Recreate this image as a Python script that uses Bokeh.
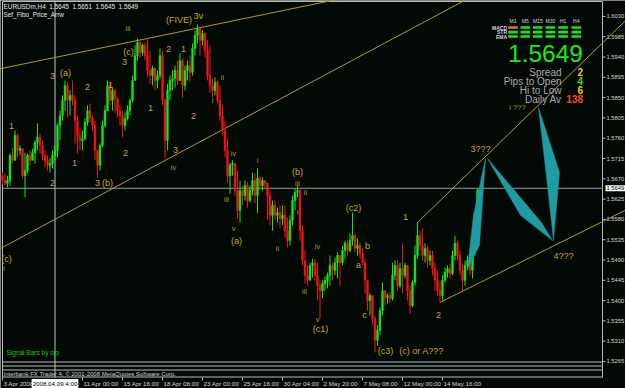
from bokeh.plotting import figure
from bokeh.models import Range1d
from bokeh.embed import file_html
from bokeh.resources import INLINE
from bokeh.core.properties import value

# ---------------- data ----------------
NB = "\u00a0"
header_line1 = "EURUSDm,H4" + NB * 2 + (NB * 2).join(["1.5645", "1.5651", "1.5645", "1.5649"])
header_line2 = "Sef_Fibo_Price_Arrw"
signal_text = "Signal Bars by ojo"
copyright_text = "Interbank FX Trader 4, \u00a9 2001-2008 MetaQuotes Software Corp."

first_open = 1.5677
closes = [
    1.5666, 1.5660, 1.5666, 1.5722, 1.5711, 1.5766, 1.5733, 1.5737, 1.5677, 1.5688,
    1.5722, 1.5711, 1.5728, 1.5751, 1.5762, 1.5744, 1.5722, 1.5711, 1.5700, 1.5704,
    1.5722, 1.5733, 1.5788, 1.5810, 1.5844, 1.5877, 1.5844, 1.5855, 1.5844, 1.5799,
    1.5766, 1.5755, 1.5759, 1.5795, 1.5821, 1.5804, 1.5788, 1.5733, 1.5700, 1.5744,
    1.5788, 1.5821, 1.5877, 1.5844, 1.5866, 1.5848, 1.5821, 1.5810, 1.5788, 1.5804,
    1.5821, 1.5844, 1.5888, 1.5943, 1.5972, 1.5950, 1.5966, 1.5943, 1.5910, 1.5899,
    1.5915, 1.5888, 1.5899, 1.5943, 1.5844, 1.5755, 1.5866, 1.5888, 1.5892, 1.5910,
    1.5888, 1.5932, 1.5877, 1.5910, 1.5921, 1.5906, 1.5959, 1.5988, 1.6003, 1.5977,
    1.5992, 1.5954, 1.5899, 1.5877, 1.5866, 1.5884, 1.5844, 1.5810, 1.5777, 1.5733,
    1.5677, 1.5700, 1.5704, 1.5644, 1.5600, 1.5644, 1.5633, 1.5655, 1.5622, 1.5644,
    1.5666, 1.5633, 1.5671, 1.5655, 1.5666, 1.5660, 1.5633, 1.5589, 1.5611, 1.5589,
    1.5595, 1.5582, 1.5589, 1.5555, 1.5533, 1.5578, 1.5622, 1.5640, 1.5644, 1.5555,
    1.5489, 1.5456, 1.5445, 1.5478, 1.5484, 1.5456, 1.5433, 1.5422, 1.5438, 1.5445,
    1.5456, 1.5478, 1.5467, 1.5484, 1.5500, 1.5484, 1.5511, 1.5527, 1.5511, 1.5533,
    1.5544, 1.5516, 1.5522, 1.5504, 1.5484, 1.5445, 1.5400, 1.5411, 1.5360, 1.5312,
    1.5334, 1.5378, 1.5422, 1.5407, 1.5411, 1.5405, 1.5456, 1.5478, 1.5433, 1.5471,
    1.5456, 1.5478, 1.5422, 1.5389, 1.5440, 1.5500, 1.5544, 1.5522, 1.5500, 1.5516,
    1.5489, 1.5500, 1.5471, 1.5445, 1.5422, 1.5411, 1.5445, 1.5462, 1.5471, 1.5460,
    1.5500, 1.5527, 1.5500, 1.5467, 1.5445, 1.5478, 1.5489, 1.5467, 1.5511, 1.5573,
    1.5645, 1.5649,
]
highs = [
    1.5684, 1.5682, 1.5677, 1.5726, 1.5739, 1.5777, 1.5770, 1.5744, 1.5737, 1.5728,
    1.5726, 1.5733, 1.5737, 1.5755, 1.5793, 1.5770, 1.5755, 1.5733, 1.5722, 1.5715,
    1.5733, 1.5744, 1.5793, 1.5821, 1.5855, 1.5888, 1.5885, 1.5866, 1.5888, 1.5855,
    1.5810, 1.5782, 1.5777, 1.5804, 1.5833, 1.5837, 1.5810, 1.5799, 1.5733, 1.5748,
    1.5799, 1.5833, 1.5888, 1.5884, 1.5872, 1.5870, 1.5850, 1.5833, 1.5821, 1.5817,
    1.5833, 1.5848, 1.5899, 1.5966, 1.5981, 1.5977, 1.5970, 1.5972, 1.5983, 1.5954,
    1.5921, 1.5917, 1.5910, 1.5959, 1.5954, 1.5848, 1.5881, 1.5899, 1.5910, 1.5921,
    1.5932, 1.5948, 1.5937, 1.5921, 1.5932, 1.5943, 1.5970, 1.5999, 1.6012, 1.6008,
    1.5999, 1.5994, 1.5977, 1.5966, 1.5892, 1.5895, 1.5888, 1.5877, 1.5833, 1.5799,
    1.5759, 1.5706, 1.5711, 1.5704, 1.5688, 1.5666, 1.5655, 1.5666, 1.5662, 1.5655,
    1.5684, 1.5682, 1.5693, 1.5677, 1.5673, 1.5666, 1.5662, 1.5644, 1.5622, 1.5622,
    1.5606, 1.5611, 1.5611, 1.5611, 1.5584, 1.5589, 1.5633, 1.5649, 1.5655, 1.5649,
    1.5567, 1.5511, 1.5478, 1.5484, 1.5493, 1.5493, 1.5484, 1.5445, 1.5445, 1.5453,
    1.5462, 1.5500, 1.5484, 1.5495, 1.5507, 1.5500, 1.5522, 1.5533, 1.5533, 1.5549,
    1.5595, 1.5549, 1.5538, 1.5529, 1.5516, 1.5493, 1.5445, 1.5416, 1.5411, 1.5367,
    1.5345, 1.5385, 1.5440, 1.5422, 1.5416, 1.5418, 1.5484, 1.5489, 1.5489, 1.5484,
    1.5527, 1.5484, 1.5478, 1.5433, 1.5445, 1.5522, 1.5573, 1.5555, 1.5560, 1.5527,
    1.5522, 1.5511, 1.5511, 1.5484, 1.5467, 1.5445, 1.5456, 1.5473, 1.5478, 1.5482,
    1.5511, 1.5544, 1.5533, 1.5511, 1.5482, 1.5489, 1.5500, 1.5500, 1.5522, 1.5578,
    1.5649, 1.5651,
]
lows = [
    1.5657, 1.5655, 1.5651, 1.5655, 1.5704, 1.5711, 1.5717, 1.5722, 1.5671, 1.5629,
    1.5682, 1.5700, 1.5711, 1.5704, 1.5733, 1.5726, 1.5711, 1.5695, 1.5688, 1.5684,
    1.5693, 1.5711, 1.5717, 1.5755, 1.5799, 1.5821, 1.5806, 1.5810, 1.5833, 1.5748,
    1.5726, 1.5733, 1.5733, 1.5755, 1.5788, 1.5795, 1.5777, 1.5711, 1.5673, 1.5688,
    1.5739, 1.5784, 1.5821, 1.5833, 1.5821, 1.5817, 1.5806, 1.5788, 1.5762, 1.5777,
    1.5799, 1.5810, 1.5839, 1.5888, 1.5932, 1.5939, 1.5943, 1.5932, 1.5895, 1.5881,
    1.5877, 1.5866, 1.5870, 1.5892, 1.5833, 1.5715, 1.5733, 1.5844, 1.5866, 1.5872,
    1.5877, 1.5888, 1.5850, 1.5866, 1.5888, 1.5884, 1.5899, 1.5943, 1.5970, 1.5943,
    1.5966, 1.5939, 1.5888, 1.5861, 1.5850, 1.5855, 1.5837, 1.5799, 1.5766, 1.5717,
    1.5662, 1.5637, 1.5677, 1.5633, 1.5582, 1.5573, 1.5611, 1.5622, 1.5606, 1.5617,
    1.5633, 1.5615, 1.5595, 1.5644, 1.5644, 1.5649, 1.5578, 1.5567, 1.5555, 1.5578,
    1.5573, 1.5562, 1.5567, 1.5540, 1.5518, 1.5522, 1.5567, 1.5600, 1.5629, 1.5533,
    1.5478, 1.5438, 1.5433, 1.5445, 1.5451, 1.5445, 1.5400, 1.5360, 1.5405, 1.5422,
    1.5427, 1.5433, 1.5445, 1.5456, 1.5449, 1.5433, 1.5478, 1.5493, 1.5500, 1.5507,
    1.5522, 1.5507, 1.5500, 1.5493, 1.5478, 1.5416, 1.5378, 1.5367, 1.5345, 1.5285,
    1.5300, 1.5323, 1.5367, 1.5389, 1.5393, 1.5396, 1.5400, 1.5445, 1.5422, 1.5427,
    1.5416, 1.5449, 1.5400, 1.5371, 1.5385, 1.5433, 1.5493, 1.5511, 1.5489, 1.5484,
    1.5473, 1.5478, 1.5456, 1.5422, 1.5411, 1.5396, 1.5400, 1.5440, 1.5451, 1.5449,
    1.5456, 1.5489, 1.5489, 1.5456, 1.5418, 1.5433, 1.5467, 1.5456, 1.5449, 1.5500,
    1.5567, 1.5645,
]

bid = 1.5649
bid_label = "1.5649"

price_ticks = [1.6030, 1.5985, 1.5940, 1.5895, 1.5850, 1.5805, 1.5760, 1.5715, 1.5670,
               1.5625, 1.5580, 1.5535, 1.5490, 1.5445, 1.5400, 1.5355, 1.5310, 1.5265]
price_tick_labels = ["1.6030", "1.5985", "1.5940", "1.5895", "1.5850", "1.5805", "1.5760",
                     "1.5715", "1.5670", "1.5625", "1.5580", "1.5535", "1.5490", "1.5445",
                     "1.5400", "1.5355", "1.5310", "1.5265"]

time_tick_bars = [0, 32, 48, 64, 80, 96, 112, 128, 144, 160, 176]
time_tick_labels = ["3 Apr 2008", "11 Apr 00:00", "15 Apr 16:00", "18 Apr 08:00",
                    "23 Apr 00:00", "25 Apr 16:00", "30 Apr 04:00", "2 May 20:00",
                    "7 May 08:00", "12 May 00:00", "14 May 16:00"]
vline_bar = 21
vline_label = "2008.04.09 4:00"

# Elliott-wave labels (bar index, price)
wave_text = ["(FIVE)", "3v", "iii", "(c)", "3", "2", "1", "3", "(a)", "2", "1", "1", "2", "1",
             "2", "1", "3", "(b)", "2", "3", "iv", "ii", "i", "iv", "iii", "v", "(a)", "i", "ii",
             "(b)", "iii", "ii", "i", "iv", "iii", "v", "(c1)", "(c2)", "a", "b", "c", "(c3)",
             "(c) or A???", "1", "2", "3???", "4???", "i ???", "(c)", "i"]
wave_bar = [70.6, 78.4, 50.2, 50.4, 48.8, 66.4, 72.4, 20.0, 25.2, 34.0, 43.2, 59.2, 76.4, 3.6,
            20.0, 28.8, 38.0, 42.0, 49.2, 69.2, 68.4, 88.0, 84.0, 92.4, 89.6, 92.4, 93.6, 102.0,
            110.0, 118.0, 118.0, 121.2, 118.0, 126.0, 120.8, 126.0, 127.2, 140.4, 142.4, 146.0,
            144.8, 153.2, 167.6, 161.2, 174.4, 191.2, 224.4, 206.0, 1.6, 0.6]
wave_price = [1.6021, 1.6030, 1.6004, 1.5951, 1.5930, 1.5957, 1.5957, 1.5898, 1.5904, 1.5873,
              1.5877, 1.5826, 1.5810, 1.5786, 1.5660, 1.5704, 1.5660, 1.5660, 1.5728, 1.5733,
              1.5695, 1.5895, 1.5844, 1.5726, 1.5624, 1.5560, 1.5533, 1.5711, 1.5516, 1.5684,
              1.5660, 1.5640, 1.5595, 1.5520, 1.5420, 1.5358, 1.5338, 1.5606, 1.5480, 1.5522,
              1.5367, 1.5289, 1.5289, 1.5586, 1.5367, 1.5737, 1.5498, 1.5828, 1.5493, 1.5471]

# trend lines: two anchors each (bar, price); extend_left marks lines drawn both ways
trend_bar0 = [14, 0, 166, 175]
trend_price0 = [1.5931, 1.5518, 1.5573, 1.5396]
trend_bar1 = [78, 160, 208, 220]
trend_price1 = [1.6004, 1.5992, 1.5799, 1.5520]
trend_extend_left = [True, True, False, False]

# projected wave arrows (bar, price vertices)
proj_bars = [[186.0, 190.8, 193.2, 188.4],
             [194.0, 215.6, 220.0, 207.2],
             [214.4, 222.8, 220.4, 218.0]]
proj_prices = [[1.5471, 1.5522, 1.5715, 1.5589],
               [1.5715, 1.5573, 1.5533, 1.5589],
               [1.5828, 1.5684, 1.5533, 1.5655]]

# indicator panel
panel_timeframes = ["M1", "M5", "M15", "M30", "H1", "H4"]
panel_rows = ["MACD", "STR", "EMA"]
panel_status = [[0, 1, 1, 1, 1, 1],
                [1, 1, 1, 1, 1, 1],
                [1, 1, 1, 1, 1, 1]]
big_price = "1.5649"
info_labels = ["Spread", "Pips to Open", "Hi to Low", "Daily Av"]
info_values = ["2", "4", "6", "138"]

# ---------------- styling / layout ----------------
BG = "#030a06"
GREEN = "#16e616"
RED = "#ee1717"
LINE_Y = "#b19c22"
LAB_MAJ = "#c9a52b"
LAB_MIN = "#a89c26"
GREY = "#b8b8b8"
AXT = "#d4d4d4"
F = value("Liberation Sans")

W, H = 625, 388
PX_PER_BAR = 2.5
BAR0_PX = 2.0
TOP_PRICE = 1.60653
PX_PER_PRICE = 4510.6

x_start = -BAR0_PX / PX_PER_BAR
x_end = (W - BAR0_PX) / PX_PER_BAR
y_end = TOP_PRICE
y_start = TOP_PRICE - H / PX_PER_PRICE

p = figure(width=W, height=H, x_range=Range1d(x_start, x_end), y_range=Range1d(y_start, y_end),
           output_backend="svg", toolbar_location=None, min_border=0,
           x_axis_location=None, y_axis_location=None,
           background_fill_color=BG, border_fill_color=BG, outline_line_color=None)
p.grid.visible = False
p.extra_x_ranges = {"px": Range1d(0, W)}
p.extra_y_ranges = {"py": Range1d(H, 0)}
PXR = dict(x_range_name="px")
PYR = dict(y_range_name="py")
PXY = dict(x_range_name="px", y_range_name="py")

# frame borders / sub window lines
p.segment(x0=[2, 2, 2, 2, 2, 2], y0=[1, 361.5, 365.5, 369.5, 376.5, 1],
          x1=[602, 602, 602, 602, 602, 2], y1=[1, 361.5, 365.5, 369.5, 376.5, 377],
          line_color=GREY, line_width=1, **PXY)
p.segment(x0=[602], y0=[1], x1=[602], y1=[377], line_color=GREY, line_width=1, **PXY)

# bid line and vertical line
p.segment(x0=[2], x1=[602], y0=[bid], y1=[bid], line_color="#9a9a9a", line_width=1, **PXR)
p.segment(x0=[vline_bar], x1=[vline_bar], y0=[1], y1=[377], line_color="#c0c0c0", line_width=1, **PYR)

# trend lines
for b0, q0, b1, q1, both in zip(trend_bar0, trend_price0, trend_bar1, trend_price1, trend_extend_left):
    slope = (q1 - q0) / (b1 - b0)
    xa = x_start - 2 if both else b0
    xb = x_end + 2
    p.segment(x0=[xa], y0=[q0 + slope * (xa - b0)], x1=[xb], y1=[q0 + slope * (xb - b0)],
              line_color=LINE_Y, line_width=1)

# candles
opens = [first_open] + closes[:-1]
bars = list(range(len(closes)))
colors = [GREEN if c >= o else RED for o, c in zip(opens, closes)]
p.segment(x0=bars, x1=bars, y0=lows, y1=highs, line_color=colors, line_width=1)
p.vbar(x=bars, width=0.72, top=[max(o, c) for o, c in zip(opens, closes)],
       bottom=[min(o, c) for o, c in zip(opens, closes)], fill_color=colors, line_color=colors,
       line_width=0.5)

# projections
p.patches(xs=proj_bars, ys=proj_prices, fill_color="#1f9ca3", line_color="#1f9ca3", line_width=0.5)

# wave labels
minor = {"i", "ii", "iii", "iv", "v", "i ???"}
maj_idx = [k for k, t in enumerate(wave_text) if t not in minor]
min_idx = [k for k, t in enumerate(wave_text) if t in minor]
p.text(x=[wave_bar[k] for k in maj_idx], y=[wave_price[k] for k in maj_idx],
       text=[wave_text[k] for k in maj_idx], text_color=LAB_MAJ, text_font=F,
       text_font_size="9px", text_align="center", text_baseline="middle")
p.text(x=[wave_bar[k] for k in min_idx], y=[wave_price[k] for k in min_idx],
       text=[wave_text[k] for k in min_idx], text_color=LAB_MIN, text_font=F,
       text_font_size="7.5px", text_align="center", text_baseline="middle")

# header texts
p.text(x=[3, 3], y=[5.5, 13.5], text=[header_line1, header_line2], text_color="#e8e8e8",
       text_font=F, text_font_size="6.4px", text_align="left", text_baseline="middle", **PXY)
p.text(x=[6], y=[352], text=[signal_text], text_color="#1fc01f", text_font=F,
       text_font_size="6.5px", text_align="left", text_baseline="middle", **PXY)
p.text(x=[3], y=[373], text=[copyright_text], text_color="#d0d0d0", text_font=F,
       text_font_size="6px", text_align="left", text_baseline="middle", **PXY)

# indicator panel
col_x = [512.5, 524.8, 537.3, 549.9, 562.6, 575.8]
row_y = [27.0, 31.6, 36.0]
p.text(x=col_x, y=[20.5] * 6, text=panel_timeframes, text_color="#d8d8d8", text_font=F,
       text_font_size="5px", text_align="center", text_baseline="middle", **PXY)
p.text(x=[506.5] * 3, y=row_y, text=panel_rows, text_color="#d8d8d8", text_font=F,
       text_font_size="5px", text_font_style="bold", text_align="right", text_baseline="middle", **PXY)
cx, cy, cc = [], [], []
for r, row in enumerate(panel_status):
    for c, s in enumerate(row):
        cx.append(col_x[c]); cy.append(row_y[r]); cc.append("#1fe01f" if s else "#f06a5a")
p.rect(x=cx, y=cy, width=9.6, height=2.6, fill_color=cc, line_color=None, **PXY)

p.text(x=[545], y=[53], text=[big_price], text_color="#19ea19", text_font=F,
       text_font_size="24.5px", text_align="center", text_baseline="middle", **PXY)
info_y = [71.5, 80.5, 89.5, 98.5]
p.text(x=[561] * 4, y=info_y, text=info_labels, text_color="#a9a9a9", text_font=F,
       text_font_size="10px", text_align="right", text_baseline="middle", **PXY)
p.text(x=[582.5] * 4, y=info_y, text=info_values, text_color=["#f2c21e", "#28e028", "#f2c21e", "#f24a1e"],
       text_font=F, text_font_size="10px", text_font_style="bold", text_align="right",
       text_baseline="middle", **PXY)

# price axis (right)
p.segment(x0=[602] * len(price_ticks), x1=[605] * len(price_ticks), y0=price_ticks, y1=price_ticks,
          line_color=GREY, line_width=1, **PXR)
p.text(x=[606] * len(price_ticks), y=price_ticks, text=price_tick_labels, text_color=AXT,
       text_font=F, text_font_size="5.8px", text_align="left", text_baseline="middle", **PXR)
p.text(x=[605], y=[bid], text=[bid_label], text_color="black", text_font=F, text_font_size="5.8px",
       text_align="left", text_baseline="middle", background_fill_color="white", padding=1, **PXR)

# time axis (bottom)
p.segment(x0=time_tick_bars, x1=time_tick_bars, y0=[377] * len(time_tick_bars),
          y1=[380] * len(time_tick_bars), line_color=GREY, line_width=1, **PYR)
p.text(x=time_tick_bars, y=[383] * len(time_tick_bars), text=time_tick_labels, text_color=AXT,
       text_font=F, text_font_size="6.2px", text_align="left", text_baseline="middle", x_offset=1,
       **PYR)
p.text(x=[vline_bar], y=[383], text=[vline_label], text_color="black", text_font=F,
       text_font_size="6.2px", text_align="center", text_baseline="middle",
       background_fill_color="white", padding=1, **PYR)

open("out.html", "w").write(file_html(p, INLINE))
